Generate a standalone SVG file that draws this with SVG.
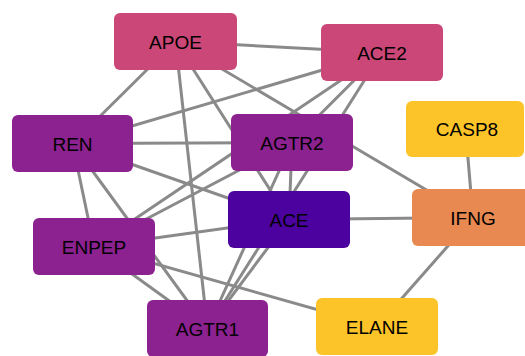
<svg xmlns="http://www.w3.org/2000/svg" width="525" height="356" viewBox="0 0 525 356">
<style>
.e{stroke:#8a8a8a;stroke-width:3;fill:none}
.n rect{rx:6;ry:6}
.n text{font-family:"Liberation Sans",Arial,sans-serif;font-size:19px;fill:#000;text-anchor:middle}
.pink{fill:#cb4777}
.purple{fill:#8c2190}
.ace{fill:#4b029f}
.orange{fill:#e78951}
.yellow{fill:#fdc42a}
</style>
<rect width="525" height="356" fill="#fff"/>
<g id="edges">
<line class="e" x1="175.5" y1="41.5" x2="382" y2="52.5"/>
<line class="e" x1="175.5" y1="41.5" x2="72.5" y2="143.5"/>
<line class="e" x1="175.5" y1="41.5" x2="207.5" y2="328.5"/>
<line class="e" x1="175.5" y1="41.5" x2="289" y2="219.5"/>
<line class="e" x1="175.5" y1="41.5" x2="473" y2="217.5"/>
<line class="e" x1="382" y1="52.5" x2="72.5" y2="143.5"/>
<line class="e" x1="382" y1="52.5" x2="292" y2="142.5"/>
<line class="e" x1="382" y1="52.5" x2="94" y2="246.5"/>
<line class="e" x1="382" y1="52.5" x2="207.5" y2="328.5"/>
<line class="e" x1="72.5" y1="143.5" x2="292" y2="142.5"/>
<line class="e" x1="72.5" y1="143.5" x2="289" y2="219.5"/>
<line class="e" x1="72.5" y1="143.5" x2="94" y2="246.5"/>
<line class="e" x1="72.5" y1="143.5" x2="207.5" y2="328.5"/>
<line class="e" x1="292" y1="142.5" x2="289" y2="219.5"/>
<line class="e" x1="292" y1="142.5" x2="94" y2="246.5"/>
<line class="e" x1="292" y1="142.5" x2="207.5" y2="328.5"/>
<line class="e" x1="289" y1="219.5" x2="94" y2="246.5"/>
<line class="e" x1="289" y1="219.5" x2="207.5" y2="328.5"/>
<line class="e" x1="289" y1="219.5" x2="473" y2="217.5"/>
<line class="e" x1="94" y1="246.5" x2="207.5" y2="328.5"/>
<line class="e" x1="94" y1="246.5" x2="377" y2="326.5"/>
<line class="e" x1="473" y1="217.5" x2="465.5" y2="129"/>
<line class="e" x1="473" y1="217.5" x2="377" y2="326.5"/>
</g>
<g id="APOE" class="n"><rect class="pink" x="114" y="13" width="123" height="57"/><text x="175.5" y="48.5">APOE</text></g>
<g id="ACE2" class="n"><rect class="pink" x="321" y="24" width="122" height="57"/><text x="382" y="59.5">ACE2</text></g>
<g id="REN" class="n"><rect class="purple" x="12" y="115" width="121" height="57"/><text x="72.5" y="150.5">REN</text></g>
<g id="AGTR2" class="n"><rect class="purple" x="231" y="114" width="122" height="57"/><text x="292" y="149.5">AGTR2</text></g>
<g id="CASP8" class="n"><rect class="yellow" x="406" y="101" width="118" height="56"/><text x="467" y="136">CASP8</text></g>
<g id="IFNG" class="n"><rect class="orange" x="412" y="189" width="122" height="57"/><text x="473" y="224.5">IFNG</text></g>
<g id="ACE" class="n"><rect class="ace" x="228" y="191" width="122" height="57"/><text x="289" y="226.5">ACE</text></g>
<g id="ENPEP" class="n"><rect class="purple" x="33" y="218" width="122" height="57"/><text x="94" y="253.5">ENPEP</text></g>
<g id="AGTR1" class="n"><rect class="purple" x="147" y="300" width="121" height="57"/><text x="207.5" y="335.5">AGTR1</text></g>
<g id="ELANE" class="n"><rect class="yellow" x="316" y="298" width="122" height="57"/><text x="377" y="333.5">ELANE</text></g>
</svg>
